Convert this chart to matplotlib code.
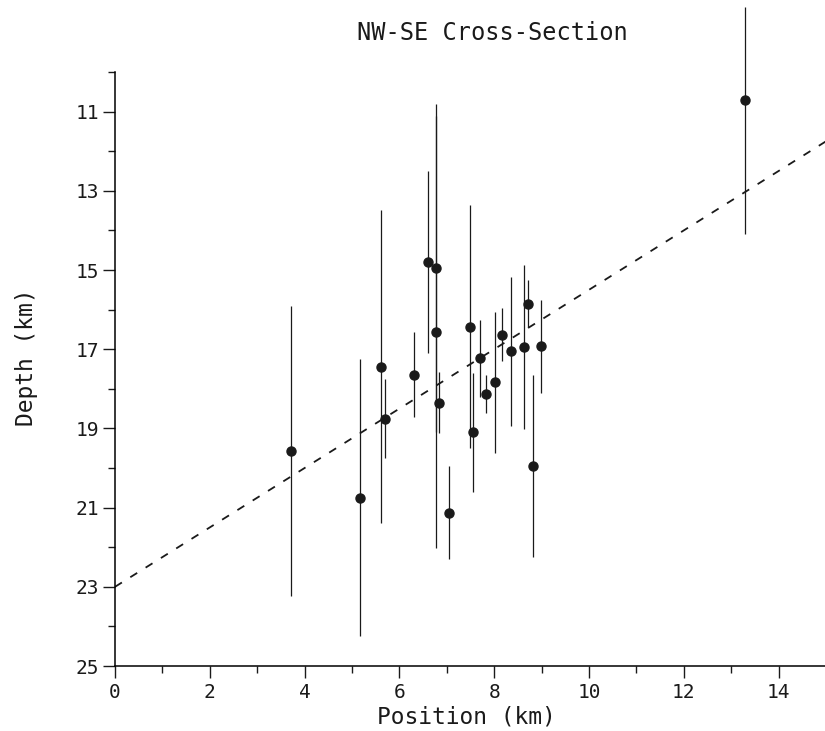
import matplotlib
matplotlib.use('Agg')
import matplotlib.pyplot as plt
from matplotlib.ticker import MultipleLocator

# hypocentre positions along the NW-SE profile
position = [3.71, 5.17, 5.61, 5.70, 6.31, 6.60, 6.77, 6.77, 6.84, 7.05,
            7.49, 7.55, 7.70, 7.83, 8.02, 8.16, 8.35, 8.63, 8.71, 8.82,
            8.99, 13.29]
depth = [19.56, 20.75, 17.44, 18.75, 17.64, 14.79, 14.96, 16.56, 18.35, 21.13,
         16.43, 19.10, 17.23, 18.13, 17.84, 16.63, 17.05, 16.95, 15.85, 19.94,
         16.93, 10.70]
# error (shallow side, deep side)
err_up = [3.66, 3.50, 3.96, 0.99, 1.08, 2.30, 4.14, 5.45, 0.77, 1.17,
          3.06, 1.50, 0.97, 0.48, 1.78, 0.68, 1.88, 2.07, 0.60, 2.30,
          1.18, 2.33]
err_down = [3.66, 3.50, 3.96, 0.99, 1.08, 2.30, 4.14, 5.45, 0.77, 1.17,
            3.06, 1.50, 0.97, 0.48, 1.78, 0.68, 1.88, 2.07, 0.60, 2.30,
            1.18, 3.40]

# fitted trend: depth = a + b * position
fit_x = [0, 15]
fit_a, fit_b = 23.0, -0.75

mono = 'DejaVu Sans Mono'
ink = '#1a1a1a'

fig = plt.figure(figsize=(8.25, 7.31), dpi=100)
ax = fig.add_axes([0.1394, 0.0889, 0.8618, 0.8126])

fit_y = [fit_a + fit_b * x for x in fit_x]
ax.plot(fit_x, fit_y, color=ink, lw=1.3, dashes=(4.5, 5.5), clip_on=False)

ax.errorbar(position, depth, yerr=[err_up, err_down], fmt='o', color=ink,
            ms=6.5, elinewidth=0.9, capsize=0, clip_on=False, zorder=3)

ax.set_xlim(0, 15)
ax.set_ylim(25, 10)
ax.spines['top'].set_visible(False)
ax.spines['right'].set_visible(False)
ax.spines['left'].set_linewidth(1.1)
ax.spines['bottom'].set_linewidth(1.1)

ax.xaxis.set_major_locator(MultipleLocator(2))
ax.xaxis.set_minor_locator(MultipleLocator(1))
ax.set_yticks([11, 13, 15, 17, 19, 21, 23, 25])
ax.yaxis.set_minor_locator(MultipleLocator(1))
ax.tick_params(which='major', direction='out', length=8.5, width=1.0,
               color=ink, labelsize=14, labelcolor=ink)
ax.tick_params(which='minor', direction='out', length=5, width=1.0, color=ink)
ax.tick_params(axis='x', pad=4)
ax.tick_params(axis='y', pad=3)
for lab in ax.get_xticklabels() + ax.get_yticklabels():
    lab.set_family(mono)

ax.set_xlabel('Position (km)', family=mono, fontsize=16.5, color=ink, va='center')
ax.xaxis.set_label_coords(0.494, -0.086)
ax.set_ylabel('Depth (km)', family=mono, fontsize=16.5, color=ink, va='center')
ax.yaxis.set_label_coords(-0.125, 0.52)

fig.text(492 / 825, 1 - 33 / 731, 'NW-SE Cross-Section', family=mono,
         fontsize=17, color=ink, ha='center', va='center')

fig.savefig('out.png', dpi=100)
